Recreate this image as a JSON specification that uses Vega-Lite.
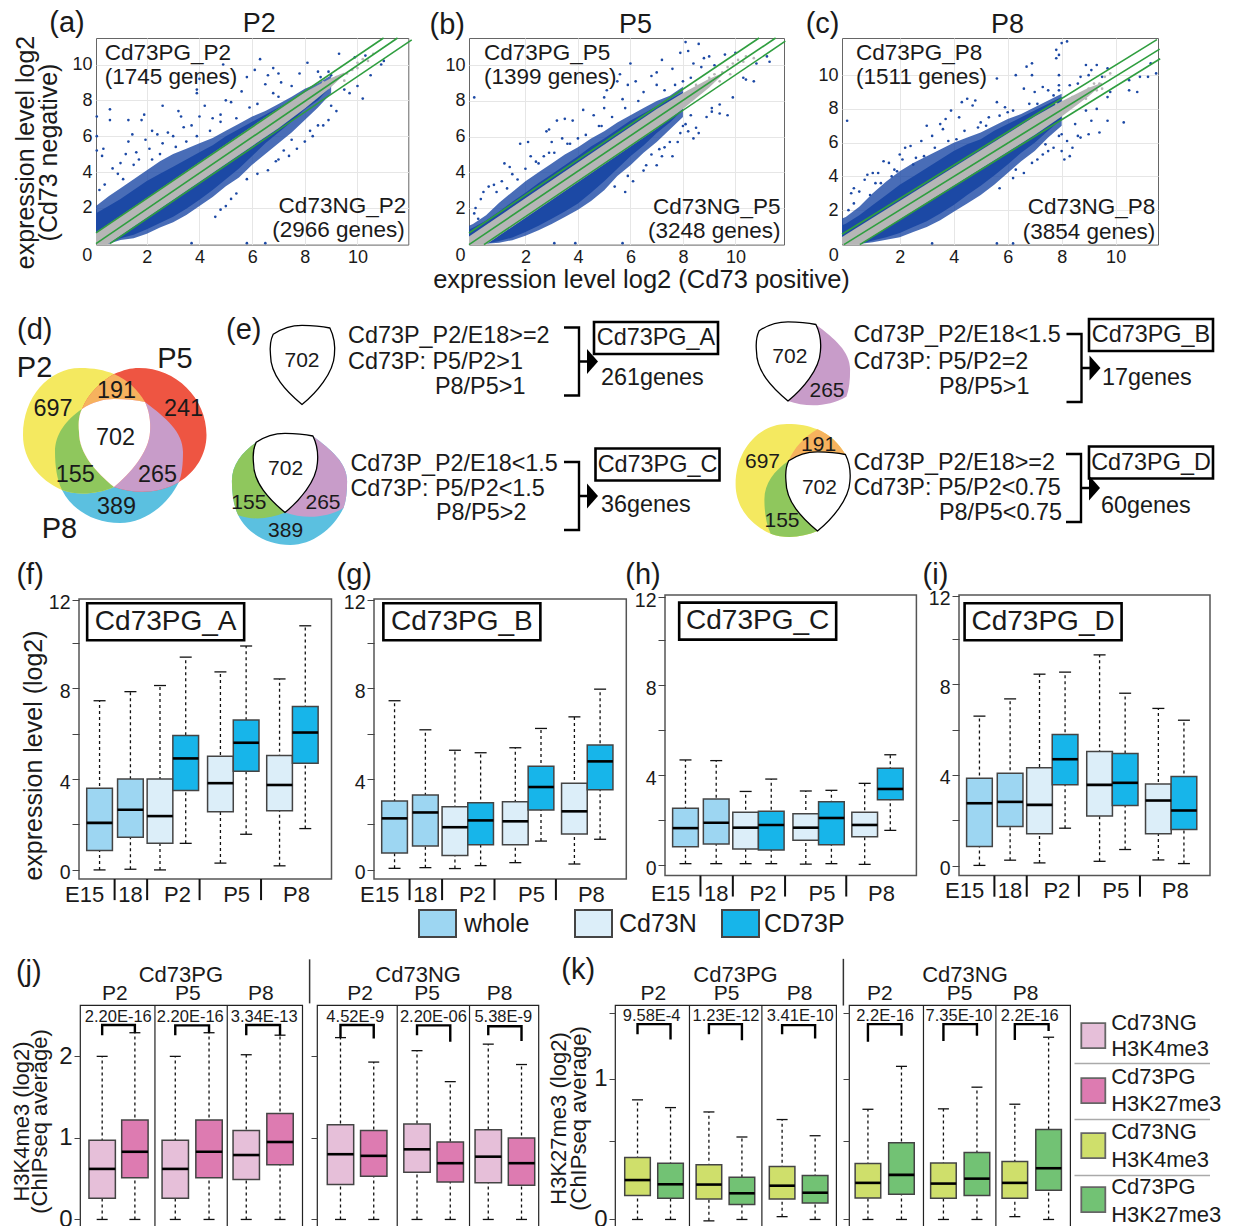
{"$schema":"https://vega.github.io/schema/vega-lite/v6.json","padding":0,"background":"white","bounds":"flush","spacing":0,"resolve":{"scale":{"color":"independent"}},
"datasets":{
"env":[
{"panel":"a","x":0.07,"hi":2.1,"lo":0,"hi2":1.7,"lo2":0},{"panel":"a","x":0.55,"hi":2.65,"lo":0,"hi2":2.1,"lo2":0},{"panel":"a","x":1,"hi":3.1,"lo":0.2,"hi2":2.5,"lo2":0.3},{"panel":"a","x":1.5,"hi":3.6,"lo":0.3,"hi2":3,"lo2":0.5},{"panel":"a","x":2,"hi":4.1,"lo":0.55,"hi2":3.5,"lo2":0.8},{"panel":"a","x":2.5,"hi":4.6,"lo":0.9,"hi2":3.9,"lo2":1.15},{"panel":"a","x":3,"hi":5,"lo":1.2,"hi2":4.3,"lo2":1.5},{"panel":"a","x":3.5,"hi":5.3,"lo":1.6,"hi2":4.7,"lo2":1.95},{"panel":"a","x":4,"hi":5.6,"lo":2.1,"hi2":5.1,"lo2":2.45},{"panel":"a","x":4.5,"hi":5.9,"lo":2.6,"hi2":5.5,"lo2":3},{"panel":"a","x":5,"hi":6.3,"lo":3.2,"hi2":6,"lo2":3.6},{"panel":"a","x":5.5,"hi":6.7,"lo":3.7,"hi2":6.4,"lo2":4.2},{"panel":"a","x":6,"hi":7.1,"lo":4.4,"hi2":6.8,"lo2":4.9},{"panel":"a","x":6.5,"hi":7.4,"lo":5,"hi2":7.2,"lo2":5.6},{"panel":"a","x":7,"hi":7.8,"lo":5.6,"hi2":7.6,"lo2":6.2},{"panel":"a","x":7.5,"hi":8.2,"lo":6.2,"hi2":8,"lo2":6.8},{"panel":"a","x":8,"hi":8.65,"lo":6.9,"hi2":8.4,"lo2":7.5},{"panel":"a","x":8.5,"hi":8.95,"lo":7.6,"hi2":8.8,"lo2":8},{"panel":"a","x":9,"hi":9.4,"lo":8.4,"hi2":9.2,"lo2":8.8},
{"panel":"b","x":-0.15,"hi":1,"lo":0,"hi2":0.8,"lo2":0},{"panel":"b","x":0,"hi":1.1,"lo":0,"hi2":0.9,"lo2":0},{"panel":"b","x":0.5,"hi":1.6,"lo":0,"hi2":1.3,"lo2":0},{"panel":"b","x":1,"hi":2.3,"lo":0.05,"hi2":1.8,"lo2":0.15},{"panel":"b","x":1.5,"hi":2.9,"lo":0.2,"hi2":2.35,"lo2":0.35},{"panel":"b","x":2,"hi":3.5,"lo":0.45,"hi2":2.85,"lo2":0.65},{"panel":"b","x":2.5,"hi":4,"lo":0.75,"hi2":3.4,"lo2":1},{"panel":"b","x":3,"hi":4.5,"lo":1.1,"hi2":3.9,"lo2":1.4},{"panel":"b","x":3.5,"hi":5,"lo":1.5,"hi2":4.4,"lo2":1.8},{"panel":"b","x":4,"hi":5.4,"lo":1.9,"hi2":4.9,"lo2":2.25},{"panel":"b","x":4.5,"hi":5.9,"lo":2.4,"hi2":5.45,"lo2":2.85},{"panel":"b","x":5,"hi":6.3,"lo":3,"hi2":5.9,"lo2":3.5},{"panel":"b","x":5.5,"hi":6.8,"lo":3.8,"hi2":6.4,"lo2":4.2},{"panel":"b","x":6,"hi":7.2,"lo":4.4,"hi2":6.9,"lo2":4.9},{"panel":"b","x":6.5,"hi":7.6,"lo":5.1,"hi2":7.3,"lo2":5.5},{"panel":"b","x":7,"hi":8,"lo":5.7,"hi2":7.7,"lo2":6.2},{"panel":"b","x":7.5,"hi":8.3,"lo":6.4,"hi2":8.1,"lo2":6.8},{"panel":"b","x":8,"hi":8.8,"lo":7.1,"hi2":8.5,"lo2":7.5},
{"panel":"c","x":-0.14,"hi":1.5,"lo":0,"hi2":1.1,"lo2":0},{"panel":"c","x":0,"hi":1.6,"lo":0,"hi2":1.2,"lo2":0},{"panel":"c","x":0.5,"hi":2.2,"lo":0,"hi2":1.7,"lo2":0},{"panel":"c","x":1,"hi":3,"lo":0.1,"hi2":2.3,"lo2":0.2},{"panel":"c","x":1.5,"hi":3.7,"lo":0.25,"hi2":2.9,"lo2":0.4},{"panel":"c","x":2,"hi":4.3,"lo":0.4,"hi2":3.5,"lo2":0.65},{"panel":"c","x":2.5,"hi":4.8,"lo":0.7,"hi2":4,"lo2":1},{"panel":"c","x":3,"hi":5.2,"lo":1,"hi2":4.5,"lo2":1.35},{"panel":"c","x":3.5,"hi":5.6,"lo":1.4,"hi2":5,"lo2":1.8},{"panel":"c","x":4,"hi":6,"lo":1.9,"hi2":5.5,"lo2":2.3},{"panel":"c","x":4.5,"hi":6.3,"lo":2.4,"hi2":5.9,"lo2":2.9},{"panel":"c","x":5,"hi":6.6,"lo":2.9,"hi2":6.2,"lo2":3.45},{"panel":"c","x":5.5,"hi":7,"lo":3.5,"hi2":6.7,"lo2":4.05},{"panel":"c","x":6,"hi":7.4,"lo":4.2,"hi2":7.1,"lo2":4.7},{"panel":"c","x":6.5,"hi":7.7,"lo":4.9,"hi2":7.5,"lo2":5.4},{"panel":"c","x":7,"hi":8.1,"lo":5.5,"hi2":7.9,"lo2":6},{"panel":"c","x":7.5,"hi":8.5,"lo":6.3,"hi2":8.3,"lo2":6.7},{"panel":"c","x":8,"hi":8.9,"lo":7,"hi2":8.7,"lo2":7.4}],
"band":[{"x":-0.3,"hi":0.25,"lo":-0.85},{"x":7,"hi":7.55,"lo":6.45},{"x":8,"hi":8.45,"lo":7.55},{"x":9,"hi":9.25,"lo":8.75},{"x":9.5,"hi":9.55,"lo":9.45}],
"green":[
{"panel":"a","l":"u","x":0.07,"y":0.6},{"panel":"a","l":"u","x":10.99,"y":11.48},{"panel":"a","l":"m","x":0.07,"y":0},{"panel":"a","l":"m","x":11.52,"y":11.48},{"panel":"a","l":"d","x":0.6,"y":0},{"panel":"a","l":"d","x":12.06,"y":11.38},
{"panel":"b","l":"u","x":-0.15,"y":0.6},{"panel":"b","l":"u","x":10.9,"y":11.53},{"panel":"b","l":"m","x":-0.15,"y":-0.05},{"panel":"b","l":"m","x":11.53,"y":11.53},{"panel":"b","l":"d","x":0.42,"y":-0.05},{"panel":"b","l":"d","x":11.9,"y":11.35},
{"panel":"c","l":"u","x":-0.14,"y":0.57},{"panel":"c","l":"u","x":11.53,"y":12.1},{"panel":"c","l":"m","x":-0.07,"y":-0.04},{"panel":"c","l":"m","x":11.63,"y":11.54},{"panel":"c","l":"d","x":0.52,"y":-0.04},{"panel":"c","l":"d","x":11.65,"y":10.97}],
"pa":[{"x":0.1,"y":7.1},{"x":0.1,"y":6},{"x":0.1,"y":5.2},{"x":0.35,"y":5.3},{"x":0.6,"y":7.5},{"x":0.6,"y":6.9},{"x":0.3,"y":4.9},{"x":1.3,"y":6.9},{"x":1.9,"y":7.2},{"x":1.8,"y":6.9},{"x":1.3,"y":5.7},{"x":1.45,"y":6.1},{"x":1.6,"y":5.1},{"x":1.2,"y":5},{"x":1.95,"y":5.8},{"x":2.2,"y":6.3},{"x":2.4,"y":6.1},{"x":2.6,"y":7.7},{"x":3.2,"y":7.4},{"x":3.3,"y":7.1},{"x":3.4,"y":6.5},{"x":2.8,"y":6.2},{"x":3,"y":6},{"x":2.1,"y":5.3},{"x":2.6,"y":5.6},{"x":3.7,"y":6.6},{"x":4,"y":7.1},{"x":4.2,"y":7.7},{"x":4.5,"y":7},{"x":4.8,"y":7.2},{"x":5,"y":8},{"x":5.2,"y":7.9},{"x":5.6,"y":8.5},{"x":3.9,"y":8.6},{"x":4,"y":9.2},{"x":3.9,"y":8.4},{"x":4.9,"y":10},{"x":4.9,"y":9.3},{"x":5.8,"y":9.3},{"x":6.3,"y":10.3},{"x":6.1,"y":9.7},{"x":6.6,"y":9.4},{"x":6.8,"y":9.8},{"x":7,"y":9.5},{"x":7.1,"y":9},{"x":6.5,"y":8.9},{"x":6.8,"y":8.4},{"x":7,"y":8.2},{"x":7.5,"y":8.8},{"x":7.8,"y":9.5},{"x":8.1,"y":10.1},{"x":8.5,"y":9.6},{"x":8.9,"y":9.6},{"x":9.3,"y":10.6},{"x":9.9,"y":10.4},{"x":10.3,"y":10.5},{"x":8.6,"y":9.3},{"x":9,"y":9.4},{"x":0.2,"y":3},{"x":0.4,"y":3.3},{"x":0.7,"y":4.2},{"x":0.9,"y":3.9},{"x":1,"y":4.5},{"x":1.1,"y":3.6},{"x":1.5,"y":4.4},{"x":1.7,"y":4.7},{"x":2.2,"y":4.7},{"x":2.5,"y":5},{"x":3.1,"y":5.4},{"x":3.5,"y":5.7},{"x":3.9,"y":6},{"x":4.4,"y":6.3},{"x":4.8,"y":6.8},{"x":5.4,"y":7},{"x":5.9,"y":7.6},{"x":6.2,"y":7.8},{"x":3.7,"y":0.03},{"x":5.8,"y":0.03},{"x":6.5,"y":0.03},{"x":4.6,"y":1.5},{"x":5,"y":2.1},{"x":5.4,"y":2.8},{"x":5.8,"y":3.6},{"x":6.2,"y":3.9},{"x":6.6,"y":4.1},{"x":7,"y":4.7},{"x":7.4,"y":4.9},{"x":7.7,"y":5.3},{"x":7.5,"y":5.8},{"x":8,"y":5.7},{"x":8.3,"y":6},{"x":8.5,"y":6.6},{"x":8.7,"y":6.6},{"x":8.9,"y":6.9},{"x":9.2,"y":7.4},{"x":10.2,"y":8.1},{"x":9.7,"y":8.4},{"x":10.5,"y":9.4},{"x":11,"y":10.2},{"x":10.9,"y":10},{"x":10,"y":8.8},{"x":9.5,"y":8.6},{"x":9,"y":7.7},{"x":8.2,"y":6.3},{"x":7.2,"y":5.2},{"x":6.9,"y":4.6},{"x":5.2,"y":2.5},{"x":4.8,"y":1.9}],
"pb":[{"x":0.05,"y":8.2},{"x":0.05,"y":1.7},{"x":0.3,"y":2.5},{"x":0.4,"y":2.9},{"x":0.6,"y":3.2},{"x":0.8,"y":3.3},{"x":0.9,"y":2.9},{"x":1.1,"y":3.5},{"x":1.2,"y":4.5},{"x":1.4,"y":4.3},{"x":1.5,"y":3.9},{"x":1.7,"y":3.6},{"x":1.8,"y":5.6},{"x":2.1,"y":5.7},{"x":2.2,"y":4.9},{"x":2.4,"y":4.6},{"x":2.7,"y":4.9},{"x":2.9,"y":5.1},{"x":2.8,"y":6.3},{"x":2.9,"y":6.4},{"x":3,"y":5.7},{"x":3.2,"y":6.9},{"x":3.4,"y":5.9},{"x":3.6,"y":5.6},{"x":3.5,"y":7},{"x":3.8,"y":6.9},{"x":4,"y":5.9},{"x":4.2,"y":7.5},{"x":4.6,"y":7.2},{"x":4.9,"y":6.6},{"x":5,"y":8.2},{"x":5,"y":7.6},{"x":5.1,"y":8.6},{"x":5.5,"y":9.1},{"x":5.7,"y":8.1},{"x":5.6,"y":9.5},{"x":5.9,"y":8.9},{"x":6,"y":10.1},{"x":6.2,"y":9.1},{"x":6.5,"y":8.5},{"x":6.8,"y":9.4},{"x":7,"y":9.6},{"x":7,"y":8.9},{"x":7.2,"y":10.3},{"x":7.6,"y":9.8},{"x":7.9,"y":10.7},{"x":8,"y":9.1},{"x":8.1,"y":11.3},{"x":8.2,"y":10.8},{"x":8.6,"y":11.2},{"x":8.4,"y":10.1},{"x":8.8,"y":10.4},{"x":9,"y":10.5},{"x":9.2,"y":10},{"x":9.6,"y":10.6},{"x":10,"y":10.7},{"x":7.7,"y":8.9},{"x":8.3,"y":9.3},{"x":8.7,"y":9.9},{"x":0.1,"y":2},{"x":0.2,"y":1.4},{"x":1.3,"y":3.1},{"x":2,"y":4.2},{"x":2.5,"y":4.5},{"x":3.1,"y":5.1},{"x":3.7,"y":5.6},{"x":4.3,"y":6.1},{"x":4.8,"y":6.6},{"x":5.3,"y":7.1},{"x":5.8,"y":7.6},{"x":6.3,"y":8},{"x":7.3,"y":8.6},{"x":3.1,"y":0.03},{"x":3.9,"y":0.03},{"x":5.7,"y":0.03},{"x":5.8,"y":2.9},{"x":6.1,"y":3.5},{"x":6.5,"y":4.1},{"x":6.6,"y":4.4},{"x":7,"y":4.4},{"x":7.2,"y":4.9},{"x":7.3,"y":5.4},{"x":7.6,"y":4.9},{"x":7.1,"y":5.3},{"x":7.8,"y":5.7},{"x":7.9,"y":6.2},{"x":8.2,"y":6.3},{"x":8.1,"y":6.7},{"x":8.4,"y":5.9},{"x":8.6,"y":6.2},{"x":8.5,"y":6.5},{"x":8.3,"y":7.2},{"x":8.9,"y":7.1},{"x":9.1,"y":7.4},{"x":9.4,"y":7.3},{"x":9.7,"y":7.2},{"x":9.4,"y":7.8},{"x":9.1,"y":7.6},{"x":9.9,"y":8.2},{"x":10.3,"y":9.3},{"x":10.4,"y":9.2},{"x":10.7,"y":9.1},{"x":11.2,"y":10.5},{"x":11.3,"y":10.2},{"x":10.8,"y":10.1},{"x":5.4,"y":3.2},{"x":5.9,"y":3.8},{"x":6.8,"y":5},{"x":7.5,"y":5.7},{"x":8,"y":6.6}],
"pc":[{"x":0.05,"y":7.3},{"x":0.2,"y":3},{"x":0.3,"y":3.3},{"x":0.5,"y":3.1},{"x":0.7,"y":3.8},{"x":0.8,"y":4.1},{"x":1,"y":4.2},{"x":1.1,"y":3.6},{"x":1.2,"y":4.2},{"x":1.4,"y":4.9},{"x":1.6,"y":4.8},{"x":1.7,"y":4},{"x":1.9,"y":4.3},{"x":2,"y":5.3},{"x":2.2,"y":5.7},{"x":2.1,"y":5},{"x":2.4,"y":5.8},{"x":2.5,"y":4.7},{"x":2.8,"y":6.1},{"x":2.9,"y":5.2},{"x":3,"y":7},{"x":3.2,"y":6.4},{"x":3.5,"y":7.1},{"x":3.7,"y":7.4},{"x":3.6,"y":6.8},{"x":3.9,"y":7.9},{"x":3.8,"y":6.1},{"x":4.2,"y":7.5},{"x":4.4,"y":6.7},{"x":4.3,"y":8.4},{"x":4.7,"y":8.2},{"x":4.8,"y":8.5},{"x":4.9,"y":6.9},{"x":5,"y":7.2},{"x":4.5,"y":8.6},{"x":5.6,"y":8.4},{"x":5.7,"y":7.6},{"x":5.9,"y":8.1},{"x":5.3,"y":7.5},{"x":6,"y":7.8},{"x":5.6,"y":9.8},{"x":6.3,"y":10},{"x":6.6,"y":9.2},{"x":6.7,"y":10.5},{"x":6.9,"y":10.7},{"x":6.9,"y":10},{"x":7,"y":9},{"x":7.3,"y":9.3},{"x":7.1,"y":8.3},{"x":7.5,"y":9.1},{"x":7.7,"y":8.8},{"x":7.9,"y":9.4},{"x":7.9,"y":10},{"x":7.8,"y":11},{"x":7.9,"y":11.2},{"x":7.8,"y":11.5},{"x":7.9,"y":9.1},{"x":8,"y":11.9},{"x":8.2,"y":12},{"x":8.7,"y":9.9},{"x":9,"y":10},{"x":8.9,"y":10.6},{"x":9.3,"y":10.6},{"x":9.5,"y":9.9},{"x":9.1,"y":10.3},{"x":8.3,"y":9.4},{"x":8.6,"y":9.5},{"x":9.7,"y":10.4},{"x":0.1,"y":2},{"x":0.3,"y":2.4},{"x":0.9,"y":2.9},{"x":1.3,"y":3.6},{"x":1.8,"y":4.4},{"x":2.6,"y":5.1},{"x":3.3,"y":5.7},{"x":4.1,"y":6.2},{"x":5.2,"y":7},{"x":6.2,"y":7.9},{"x":6.8,"y":8.3},{"x":3.2,"y":0.03},{"x":5.6,"y":0.03},{"x":6.2,"y":0.03},{"x":6.2,"y":3.9},{"x":6.6,"y":4.2},{"x":6.9,"y":4.8},{"x":7.1,"y":5},{"x":7.3,"y":5.3},{"x":7.5,"y":5.5},{"x":7.7,"y":5.7},{"x":8,"y":5.5},{"x":8.1,"y":5},{"x":8.3,"y":5.2},{"x":8.4,"y":5.7},{"x":8.2,"y":6.1},{"x":8,"y":6.5},{"x":8.6,"y":6.4},{"x":8.7,"y":6.3},{"x":9,"y":6.5},{"x":9.4,"y":6.6},{"x":9.7,"y":7.3},{"x":10.3,"y":7.2},{"x":9.1,"y":7.3},{"x":8.9,"y":7.9},{"x":9.3,"y":8},{"x":9.7,"y":8.7},{"x":9.8,"y":9},{"x":10.5,"y":9.1},{"x":10.5,"y":9.7},{"x":10.9,"y":9.9},{"x":11.2,"y":9.9},{"x":11.5,"y":10.1},{"x":11.3,"y":10.7},{"x":10.8,"y":9},{"x":7.4,"y":5.9},{"x":7.9,"y":6.4},{"x":8.5,"y":7.1},{"x":5.7,"y":3.3},{"x":6.3,"y":4.4}],
"ga":[{"x":8.2,"y":8.4},{"x":8.5,"y":8.6},{"x":8.7,"y":9},{"x":9,"y":9},{"x":9.2,"y":9.3},{"x":9.4,"y":9.4},{"x":9.6,"y":9.5},{"x":9.8,"y":9.7},{"x":10,"y":9.8},{"x":10.2,"y":10.3},{"x":10.4,"y":10.2},{"x":10.6,"y":10.6},{"x":8.9,"y":8.7},{"x":9.5,"y":9.1},{"x":10,"y":10.1}],
"gb":[{"x":8.2,"y":8.5},{"x":8.5,"y":8.9},{"x":8.7,"y":8.8},{"x":9,"y":9.3},{"x":9.2,"y":9.5},{"x":9.5,"y":9.6},{"x":9.7,"y":9.9},{"x":9.9,"y":10.1},{"x":10.1,"y":10.3},{"x":10.4,"y":10.5},{"x":10.7,"y":10.4},{"x":9.4,"y":9.1},{"x":8.9,"y":8.8},{"x":9.8,"y":9.5},{"x":10.3,"y":10.2}],
"gc":[{"x":8.2,"y":8.4},{"x":8.4,"y":8.7},{"x":8.7,"y":8.9},{"x":9,"y":9.2},{"x":9.2,"y":9.5},{"x":9.4,"y":9.5},{"x":9.6,"y":9.9},{"x":9.8,"y":10.1},{"x":8.9,"y":8.6},{"x":9.3,"y":9.1},{"x":7.8,"y":8.3},{"x":8,"y":8.2},{"x":9.5,"y":9.2},{"x":8.6,"y":8.4}],
"box":[
{"panel":"f","at":0.8,"type":"whole","hi":7.45,"q3":3.6,"med":2.07,"q1":0.85,"lo":0},{"panel":"f","at":2,"type":"whole","hi":7.85,"q3":4,"med":2.65,"q1":1.44,"lo":0.03},{"panel":"f","at":3.15,"type":"N","hi":8.12,"q3":4,"med":2.37,"q1":1.17,"lo":0},{"panel":"f","at":4.15,"type":"P","hi":9.37,"q3":5.92,"med":4.91,"q1":3.5,"lo":1.17},{"panel":"f","at":5.5,"type":"N","hi":8.72,"q3":5,"med":3.82,"q1":2.56,"lo":0.3},{"panel":"f","at":6.5,"type":"P","hi":9.86,"q3":6.6,"med":5.6,"q1":4.34,"lo":1.57},{"panel":"f","at":7.8,"type":"N","hi":8.41,"q3":5.04,"med":3.74,"q1":2.6,"lo":0.18},{"panel":"f","at":8.8,"type":"P","hi":10.75,"q3":7.2,"med":6.05,"q1":4.7,"lo":1.82},
{"panel":"g","at":0.8,"type":"whole","hi":7.45,"q3":3.03,"med":2.27,"q1":0.75,"lo":0.07},{"panel":"g","at":2,"type":"whole","hi":6.17,"q3":3.3,"med":2.53,"q1":1.05,"lo":0.1},{"panel":"g","at":3.15,"type":"N","hi":5.27,"q3":2.78,"med":1.88,"q1":0.63,"lo":0.06},{"panel":"g","at":4.15,"type":"P","hi":5.16,"q3":2.96,"med":2.18,"q1":1.11,"lo":0.19},{"panel":"g","at":5.5,"type":"N","hi":5.38,"q3":3,"med":2.14,"q1":1.11,"lo":0.32},{"panel":"g","at":6.5,"type":"P","hi":6.23,"q3":4.57,"med":3.65,"q1":2.64,"lo":1.27},{"panel":"g","at":7.8,"type":"N","hi":6.74,"q3":3.82,"med":2.58,"q1":1.58,"lo":0.26},{"panel":"g","at":8.8,"type":"P","hi":7.96,"q3":5.5,"med":4.78,"q1":3.53,"lo":1.35},
{"panel":"h","at":0.8,"type":"whole","hi":4.67,"q3":2.52,"med":1.64,"q1":0.81,"lo":0.06},{"panel":"h","at":2,"type":"whole","hi":4.64,"q3":2.93,"med":1.88,"q1":0.93,"lo":0.06},{"panel":"h","at":3.15,"type":"N","hi":3.27,"q3":2.34,"med":1.66,"q1":0.71,"lo":0.06},{"panel":"h","at":4.15,"type":"P","hi":3.82,"q3":2.39,"med":1.78,"q1":0.67,"lo":0.06},{"panel":"h","at":5.5,"type":"N","hi":3.29,"q3":2.28,"med":1.66,"q1":1.1,"lo":0.04},{"panel":"h","at":6.5,"type":"P","hi":3.32,"q3":2.81,"med":2.09,"q1":0.9,"lo":0.06},{"panel":"h","at":7.8,"type":"N","hi":3.63,"q3":2.34,"med":1.78,"q1":1.26,"lo":0.03},{"panel":"h","at":8.8,"type":"P","hi":4.9,"q3":4.3,"med":3.38,"q1":2.9,"lo":1.54},
{"panel":"i","at":0.8,"type":"whole","hi":6.59,"q3":3.85,"med":2.75,"q1":0.84,"lo":0.01},{"panel":"i","at":2,"type":"whole","hi":7.35,"q3":4.07,"med":2.81,"q1":1.72,"lo":0.24},{"panel":"i","at":3.15,"type":"N","hi":8.44,"q3":4.31,"med":2.68,"q1":1.41,"lo":0.12},{"panel":"i","at":4.15,"type":"P","hi":8.53,"q3":5.78,"med":4.69,"q1":3.57,"lo":1.65},{"panel":"i","at":5.5,"type":"N","hi":9.29,"q3":5.03,"med":3.56,"q1":2.19,"lo":0.19},{"panel":"i","at":6.5,"type":"P","hi":7.6,"q3":4.94,"med":3.65,"q1":2.65,"lo":0.71},{"panel":"i","at":7.8,"type":"N","hi":6.93,"q3":3.6,"med":2.87,"q1":1.41,"lo":0.25},{"panel":"i","at":8.8,"type":"P","hi":6.41,"q3":3.93,"med":2.43,"q1":1.59,"lo":0.09}],
"seps":[{"at":1.385},{"at":2.65},{"at":4.69},{"at":7.08}],
"chip":[
{"panel":"j1","at":0.84,"k":"NG_K4","hi":2,"q3":0.97,"med":0.62,"q1":0.26,"lo":0},{"panel":"j1","at":2.08,"k":"PG_K27","hi":2.29,"q3":1.22,"med":0.83,"q1":0.51,"lo":0},{"panel":"j1","at":3.61,"k":"NG_K4","hi":2,"q3":0.97,"med":0.62,"q1":0.26,"lo":0},{"panel":"j1","at":4.89,"k":"PG_K27","hi":2.29,"q3":1.22,"med":0.83,"q1":0.51,"lo":0},{"panel":"j1","at":6.3,"k":"NG_K4","hi":2.02,"q3":1.09,"med":0.79,"q1":0.49,"lo":0},{"panel":"j1","at":7.58,"k":"PG_K27","hi":2.26,"q3":1.3,"med":0.95,"q1":0.67,"lo":0},
{"panel":"j2","at":0.89,"k":"NG_K4","hi":2.23,"q3":1.16,"med":0.8,"q1":0.43,"lo":0},{"panel":"j2","at":2.15,"k":"PG_K27","hi":1.93,"q3":1.09,"med":0.78,"q1":0.53,"lo":0},{"panel":"j2","at":3.79,"k":"NG_K4","hi":2.07,"q3":1.17,"med":0.86,"q1":0.58,"lo":0},{"panel":"j2","at":5.05,"k":"PG_K27","hi":1.69,"q3":0.95,"med":0.69,"q1":0.46,"lo":0},{"panel":"j2","at":6.49,"k":"NG_K4","hi":2.15,"q3":1.1,"med":0.77,"q1":0.45,"lo":0},{"panel":"j2","at":7.75,"k":"PG_K27","hi":1.9,"q3":1,"med":0.69,"q1":0.42,"lo":0},
{"panel":"k1","at":0.88,"k":"NG_K4g","hi":0.85,"q3":0.44,"med":0.28,"q1":0.17,"lo":0},{"panel":"k1","at":2.17,"k":"PG_K27g","hi":0.795,"q3":0.4,"med":0.25,"q1":0.15,"lo":0},{"panel":"k1","at":3.67,"k":"NG_K4g","hi":0.764,"q3":0.388,"med":0.248,"q1":0.145,"lo":-0.01},{"panel":"k1","at":4.96,"k":"PG_K27g","hi":0.586,"q3":0.3,"med":0.186,"q1":0.107,"lo":0},{"panel":"k1","at":6.53,"k":"NG_K4g","hi":0.71,"q3":0.376,"med":0.24,"q1":0.145,"lo":0.02},{"panel":"k1","at":7.82,"k":"PG_K27g","hi":0.595,"q3":0.312,"med":0.19,"q1":0.117,"lo":0},
{"panel":"k2","at":0.74,"k":"NG_K4g","hi":0.783,"q3":0.398,"med":0.26,"q1":0.152,"lo":0},{"panel":"k2","at":2.05,"k":"PG_K27g","hi":1.088,"q3":0.545,"med":0.317,"q1":0.179,"lo":0},{"panel":"k2","at":3.69,"k":"NG_K4g","hi":0.786,"q3":0.402,"med":0.255,"q1":0.15,"lo":0},{"panel":"k2","at":5,"k":"PG_K27g","hi":0.94,"q3":0.476,"med":0.29,"q1":0.171,"lo":0},{"panel":"k2","at":6.48,"k":"NG_K4g","hi":0.819,"q3":0.412,"med":0.26,"q1":0.15,"lo":0.02},{"panel":"k2","at":7.8,"k":"PG_K27g","hi":1.295,"q3":0.64,"med":0.364,"q1":0.207,"lo":0}],
"brk":[
{"panel":"j1","b":1,"o":1,"at":0.84,"v":2.26},{"panel":"j1","b":1,"o":2,"at":0.84,"v":2.385},{"panel":"j1","b":1,"o":3,"at":2.08,"v":2.385},{"panel":"j1","b":1,"o":4,"at":2.08,"v":2.29},
{"panel":"j1","b":2,"o":1,"at":3.61,"v":2.26},{"panel":"j1","b":2,"o":2,"at":3.61,"v":2.38},{"panel":"j1","b":2,"o":3,"at":4.89,"v":2.38},{"panel":"j1","b":2,"o":4,"at":4.89,"v":2.29},
{"panel":"j1","b":3,"o":1,"at":6.3,"v":2.26},{"panel":"j1","b":3,"o":2,"at":6.3,"v":2.385},{"panel":"j1","b":3,"o":3,"at":7.58,"v":2.385},{"panel":"j1","b":3,"o":4,"at":7.58,"v":2.26},
{"panel":"j2","b":1,"o":1,"at":0.89,"v":2.23},{"panel":"j2","b":1,"o":2,"at":0.89,"v":2.385},{"panel":"j2","b":1,"o":3,"at":2.15,"v":2.385},{"panel":"j2","b":1,"o":4,"at":2.15,"v":2.22},
{"panel":"j2","b":2,"o":1,"at":3.79,"v":2.26},{"panel":"j2","b":2,"o":2,"at":3.79,"v":2.38},{"panel":"j2","b":2,"o":3,"at":5.05,"v":2.38},{"panel":"j2","b":2,"o":4,"at":5.05,"v":2.18},
{"panel":"j2","b":3,"o":1,"at":6.49,"v":2.26},{"panel":"j2","b":3,"o":2,"at":6.49,"v":2.37},{"panel":"j2","b":3,"o":3,"at":7.75,"v":2.37},{"panel":"j2","b":3,"o":4,"at":7.75,"v":2.19},
{"panel":"k1","b":1,"o":1,"at":0.88,"v":1.317},{"panel":"k1","b":1,"o":2,"at":0.88,"v":1.388},{"panel":"k1","b":1,"o":3,"at":2.17,"v":1.388},{"panel":"k1","b":1,"o":4,"at":2.17,"v":1.279},
{"panel":"k1","b":2,"o":1,"at":3.67,"v":1.317},{"panel":"k1","b":2,"o":2,"at":3.67,"v":1.388},{"panel":"k1","b":2,"o":3,"at":4.96,"v":1.388},{"panel":"k1","b":2,"o":4,"at":4.96,"v":1.274},
{"panel":"k1","b":3,"o":1,"at":6.53,"v":1.317},{"panel":"k1","b":3,"o":2,"at":6.53,"v":1.381},{"panel":"k1","b":3,"o":3,"at":7.82,"v":1.381},{"panel":"k1","b":3,"o":4,"at":7.82,"v":1.286},
{"panel":"k2","b":1,"o":1,"at":0.74,"v":1.262},{"panel":"k2","b":1,"o":2,"at":0.74,"v":1.388},{"panel":"k2","b":1,"o":3,"at":2.05,"v":1.388},{"panel":"k2","b":1,"o":4,"at":2.05,"v":1.305},
{"panel":"k2","b":2,"o":1,"at":3.69,"v":1.269},{"panel":"k2","b":2,"o":2,"at":3.69,"v":1.388},{"panel":"k2","b":2,"o":3,"at":5,"v":1.388},{"panel":"k2","b":2,"o":4,"at":5,"v":1.305},
{"panel":"k2","b":3,"o":1,"at":6.48,"v":1.276},{"panel":"k2","b":3,"o":2,"at":6.48,"v":1.388},{"panel":"k2","b":3,"o":3,"at":7.8,"v":1.388},{"panel":"k2","b":3,"o":4,"at":7.8,"v":1.34}],
"venn":[
{"venn":"d","x":11.3,"y":13,"region":"blue"},{"venn":"d","x":11.3,"y":13,"region":"yellow"},{"venn":"d","x":11.3,"y":13,"region":"red"},{"venn":"d","x":11.3,"y":13,"region":"orange"},{"venn":"d","x":11.3,"y":13,"region":"green"},{"venn":"d","x":11.3,"y":13,"region":"purple"},{"venn":"d","x":11.3,"y":13,"region":"shield"},
{"venn":"A","x":30.1,"y":5.2,"region":"shield"},
{"venn":"B","x":78.7,"y":4.85,"region":"purple"},{"venn":"B","x":78.7,"y":4.85,"region":"shield"},
{"venn":"C","x":28.4,"y":16,"region":"blue"},{"venn":"C","x":28.4,"y":16,"region":"green"},{"venn":"C","x":28.4,"y":16,"region":"purple"},{"venn":"C","x":28.4,"y":16,"region":"shield"},
{"venn":"D","x":81.65,"y":17.85,"region":"yellow"},{"venn":"D","x":81.65,"y":17.85,"region":"orange"},{"venn":"D","x":81.65,"y":17.85,"region":"green"},{"venn":"D","x":81.65,"y":17.85,"region":"shield"}],
"dcenter":[
{"t":"702","k":"n","x":11.46,"y":12.6},{"t":"697","k":"n","x":5.2,"y":9.7},{"t":"191","k":"n","x":11.54,"y":7.9},{"t":"241","k":"n","x":18.26,"y":9.7},{"t":"155","k":"n","x":7.43,"y":16.3},{"t":"265","k":"n","x":15.65,"y":16.3},{"t":"389","k":"n","x":11.54,"y":19.5},
{"t":"P2","k":"big","x":3.36,"y":5.57},{"t":"P5","k":"big","x":17.4,"y":4.7},{"t":"P8","k":"big","x":5.85,"y":21.67},
{"t":"702","k":"s","x":30.1,"y":4.9},{"t":"702","k":"s","x":28.46,"y":15.67},{"t":"155","k":"s","x":24.78,"y":19.1},{"t":"265","k":"s","x":32.2,"y":19.1},{"t":"389","k":"s","x":28.46,"y":21.9},{"t":"702","k":"s","x":78.88,"y":4.5},{"t":"265","k":"s","x":82.6,"y":7.9},{"t":"702","k":"s","x":81.84,"y":17.57},{"t":"697","k":"s","x":76.15,"y":15},{"t":"191","k":"s","x":81.76,"y":13.3},{"t":"155","k":"s","x":78.1,"y":20.9},
{"t":"Cd73PG_A","k":"n","x":65.5,"y":2.6},{"t":"Cd73PG_B","k":"n","x":115,"y":2.3},{"t":"Cd73PG_C","k":"n","x":65.65,"y":15.25},{"t":"Cd73PG_D","k":"n","x":115,"y":15.05}],
"dleft":[
{"t":"(d)","k":"big","x":1.6,"y":1.8},{"t":"(e)","k":"big","x":22.5,"y":1.8},
{"t":"Cd73P_P2/E18>=2","k":"n","x":34.7,"y":2.4},{"t":"Cd73P: P5/P2>1","k":"n","x":34.7,"y":5},{"t":"P8/P5>1","k":"n","x":43.4,"y":7.5},{"t":"261genes","k":"n","x":60,"y":6.6},
{"t":"Cd73P_P2/E18<1.5","k":"n","x":85.24,"y":2.3},{"t":"Cd73P: P5/P2=2","k":"n","x":85.24,"y":5},{"t":"P8/P5>1","k":"n","x":93.8,"y":7.5},{"t":"17genes","k":"n","x":110.1,"y":6.6},
{"t":"Cd73P_P2/E18<1.5","k":"n","x":34.94,"y":15.17},{"t":"Cd73P: P5/P2<1.5","k":"n","x":34.94,"y":17.67},{"t":"P8/P5>2","k":"n","x":43.5,"y":20.1},{"t":"36genes","k":"n","x":60,"y":19.3},
{"t":"Cd73P_P2/E18>=2","k":"n","x":85.24,"y":15.1},{"t":"Cd73P: P5/P2<0.75","k":"n","x":85.24,"y":17.57},{"t":"P8/P5<0.75","k":"n","x":93.8,"y":20.1},{"t":"60genes","k":"n","x":110,"y":19.4}],
"dbox":[{"x":65.5,"y":2.6},{"x":115,"y":2.3},{"x":65.65,"y":15.25},{"x":115,"y":15.05}],
"dbrk":[{"x":57.8,"y":4.95},{"x":108.05,"y":5.6},{"x":57.8,"y":18.4},{"x":108,"y":17.6}]
},
"vconcat":[
{"width":1,"height":36.7,"data":{"values":[{}]},"mark":{"type":"rule","opacity":0},"encoding":{}},
{"hconcat":[
{"width":95,"height":1,"data":{"values":[{}]},"mark":{"type":"rule","opacity":0},"encoding":{}},
{"width":312.3,"height":206.6,"view":{"stroke":"#666"},
"encoding":{"x":{"field":"x","type":"quantitative","scale":{"domain":[0.07,11.93],"nice":false,"zero":false},"axis":{"values":[2,4,6,8,10],"grid":true,"gridColor":"#e6e6e6","ticks":false,"domain":false,"labelFontSize":18,"labelPadding":4,"title":null}},
"y":{"field":"y","type":"quantitative","scale":{"domain":[-0.05,11.48],"nice":false,"zero":false},"axis":{"values":[2,4,6,8,10],"grid":true,"gridColor":"#e6e6e6","ticks":false,"domain":false,"labelFontSize":18,"labelPadding":4,"title":["expression level log2","(Cd73 negative)"],"titleFontSize":25,"titleLineHeight":23,"titleX":-70.5,"titleY":114,"titleBaseline":"middle"}}},
"layer":[
{"data":{"name":"env"},"transform":[{"filter":"datum.panel=='a'"}],"mark":{"type":"area","color":"#1c49a5","opacity":0.8,"clip":true},"encoding":{"y":{"field":"lo","type":"quantitative"},"y2":{"field":"hi"}}},
{"data":{"name":"env"},"transform":[{"filter":"datum.panel=='a'"}],"mark":{"type":"area","color":"#1c49a5","clip":true},"encoding":{"y":{"field":"lo2","type":"quantitative"},"y2":{"field":"hi2"}}},
{"data":{"name":"pa"},"mark":{"type":"circle","size":7,"color":"#1c49a5","opacity":1}},
{"data":{"name":"band"},"mark":{"type":"area","color":"#b6b6b6","clip":true},"encoding":{"y":{"field":"lo","type":"quantitative"},"y2":{"field":"hi"}}},
{"data":{"name":"ga"},"mark":{"type":"circle","size":7,"color":"#b6b6b6","opacity":1}},
{"data":{"name":"green"},"transform":[{"filter":"datum.panel=='a'"}],"mark":{"type":"line","color":"#2f9e3f","strokeWidth":1.6},"encoding":{"detail":{"field":"l"}}},
{"data":{"values":[{"t":"Cd73PG_P2","x":0.4,"y":10.65},{"t":"(1745 genes)","x":0.4,"y":9.3}]},"mark":{"type":"text","align":"left","fontSize":22.5},"encoding":{"text":{"field":"t"}}},
{"data":{"values":[{"t":"Cd73NG_P2","x":11.85,"y":2.08},{"t":"(2966 genes)","x":11.8,"y":0.74}]},"mark":{"type":"text","align":"right","fontSize":22.5},"encoding":{"text":{"field":"t"}}},
{"data":{"values":[{"t":"0","x":0,"y":0}]},"mark":{"type":"text","fontSize":18,"dx":-7,"dy":12},"encoding":{"text":{"field":"t"}}},
{"data":{"values":[{"t":"P2","x":6.27,"y":12.25}]},"mark":{"type":"text","fontSize":27},"encoding":{"text":{"field":"t"}}},
{"data":{"values":[{"t":"(a)","x":-1.03,"y":12.3}]},"mark":{"type":"text","fontSize":29},"encoding":{"text":{"field":"t"}}}
]},
{"width":59.5,"height":1,"data":{"values":[{}]},"mark":{"type":"rule","opacity":0},"encoding":{}},
{"width":315,"height":206.6,"view":{"stroke":"#666"},
"encoding":{"x":{"field":"x","type":"quantitative","scale":{"domain":[-0.15,11.85],"nice":false,"zero":false},"axis":{"values":[2,4,6,8,10],"grid":true,"gridColor":"#e6e6e6","ticks":false,"domain":false,"labelFontSize":18,"labelPadding":4,"title":"expression level log2 (Cd73 positive)","titleFontSize":25.5,"titleX":172,"titleY":35,"titleBaseline":"middle"}},
"y":{"field":"y","type":"quantitative","scale":{"domain":[-0.05,11.53],"nice":false,"zero":false},"axis":{"values":[2,4,6,8,10],"grid":true,"gridColor":"#e6e6e6","ticks":false,"domain":false,"labelFontSize":18,"labelPadding":4,"title":null}}},
"layer":[
{"data":{"name":"env"},"transform":[{"filter":"datum.panel=='b'"}],"mark":{"type":"area","color":"#1c49a5","opacity":0.8,"clip":true},"encoding":{"y":{"field":"lo","type":"quantitative"},"y2":{"field":"hi"}}},
{"data":{"name":"env"},"transform":[{"filter":"datum.panel=='b'"}],"mark":{"type":"area","color":"#1c49a5","clip":true},"encoding":{"y":{"field":"lo2","type":"quantitative"},"y2":{"field":"hi2"}}},
{"data":{"name":"pb"},"mark":{"type":"circle","size":7,"color":"#1c49a5","opacity":1}},
{"data":{"name":"band"},"mark":{"type":"area","color":"#b6b6b6","clip":true},"encoding":{"y":{"field":"lo","type":"quantitative"},"y2":{"field":"hi"}}},
{"data":{"name":"gb"},"mark":{"type":"circle","size":7,"color":"#b6b6b6","opacity":1}},
{"data":{"name":"green"},"transform":[{"filter":"datum.panel=='b'"}],"mark":{"type":"line","color":"#2f9e3f","strokeWidth":1.6},"encoding":{"detail":{"field":"l"}}},
{"data":{"values":[{"t":"Cd73PG_P5","x":0.42,"y":10.7},{"t":"(1399 genes)","x":0.42,"y":9.33}]},"mark":{"type":"text","align":"left","fontSize":22.5},"encoding":{"text":{"field":"t"}}},
{"data":{"values":[{"t":"Cd73NG_P5","x":11.72,"y":2.06},{"t":"(3248 genes)","x":11.72,"y":0.73}]},"mark":{"type":"text","align":"right","fontSize":22.5},"encoding":{"text":{"field":"t"}}},
{"data":{"values":[{"t":"0","x":0,"y":0}]},"mark":{"type":"text","fontSize":18,"dx":-12.5,"dy":12},"encoding":{"text":{"field":"t"}}},
{"data":{"values":[{"t":"P5","x":6.19,"y":12.26}]},"mark":{"type":"text","fontSize":27},"encoding":{"text":{"field":"t"}}},
{"data":{"values":[{"t":"(b)","x":-0.98,"y":12.28}]},"mark":{"type":"text","fontSize":29},"encoding":{"text":{"field":"t"}}}
]},
{"width":58,"height":1,"data":{"values":[{}]},"mark":{"type":"rule","opacity":0},"encoding":{}},
{"width":316,"height":206.6,"view":{"stroke":"#666"},
"encoding":{"x":{"field":"x","type":"quantitative","scale":{"domain":[-0.14,11.57],"nice":false,"zero":false},"axis":{"values":[2,4,6,8,10],"grid":true,"gridColor":"#e6e6e6","ticks":false,"domain":false,"labelFontSize":18,"labelPadding":4,"title":null}},
"y":{"field":"y","type":"quantitative","scale":{"domain":[-0.04,12.2],"nice":false,"zero":false},"axis":{"values":[2,4,6,8,10],"grid":true,"gridColor":"#e6e6e6","ticks":false,"domain":false,"labelFontSize":18,"labelPadding":4,"title":null}}},
"layer":[
{"data":{"name":"env"},"transform":[{"filter":"datum.panel=='c'"}],"mark":{"type":"area","color":"#1c49a5","opacity":0.8,"clip":true},"encoding":{"y":{"field":"lo","type":"quantitative"},"y2":{"field":"hi"}}},
{"data":{"name":"env"},"transform":[{"filter":"datum.panel=='c'"}],"mark":{"type":"area","color":"#1c49a5","clip":true},"encoding":{"y":{"field":"lo2","type":"quantitative"},"y2":{"field":"hi2"}}},
{"data":{"name":"pc"},"mark":{"type":"circle","size":7,"color":"#1c49a5","opacity":1}},
{"data":{"name":"band"},"mark":{"type":"area","color":"#b6b6b6","clip":true},"encoding":{"y":{"field":"lo","type":"quantitative"},"y2":{"field":"hi"}}},
{"data":{"name":"gc"},"mark":{"type":"circle","size":7,"color":"#b6b6b6","opacity":1}},
{"data":{"name":"green"},"transform":[{"filter":"datum.panel=='c'"}],"mark":{"type":"line","color":"#2f9e3f","strokeWidth":1.6},"encoding":{"detail":{"field":"l"}}},
{"data":{"values":[{"t":"Cd73PG_P8","x":0.38,"y":11.3},{"t":"(1511 genes)","x":0.38,"y":9.86}]},"mark":{"type":"text","align":"left","fontSize":22.5},"encoding":{"text":{"field":"t"}}},
{"data":{"values":[{"t":"Cd73NG_P8","x":11.47,"y":2.16},{"t":"(3854 genes)","x":11.47,"y":0.71}]},"mark":{"type":"text","align":"right","fontSize":22.5},"encoding":{"text":{"field":"t"}}},
{"data":{"values":[{"t":"0","x":0,"y":0}]},"mark":{"type":"text","fontSize":18,"dx":-12,"dy":12},"encoding":{"text":{"field":"t"}}},
{"data":{"values":[{"t":"P8","x":5.99,"y":12.98}]},"mark":{"type":"text","fontSize":27},"encoding":{"text":{"field":"t"}}},
{"data":{"values":[{"t":"(c)","x":-0.86,"y":13}]},"mark":{"type":"text","fontSize":29},"encoding":{"text":{"field":"t"}}}
]}
],"bounds":"flush","spacing":0},
{"width":1,"height":273.3,"data":{"values":[{}]},"mark":{"type":"rule","opacity":0},"encoding":{}},
{"width":1242,"height":245,"resolve":{"scale":{"size":"independent"}},
"encoding":{"x":{"field":"x","type":"quantitative","scale":{"domain":[0,124.2],"nice":false,"zero":false},"axis":null},"y":{"field":"y","type":"quantitative","scale":{"domain":[0,24.5],"reverse":true,"nice":false,"zero":false},"axis":null}},
"layer":[
{"data":{"name":"venn"},"mark":{"type":"point","filled":true,"opacity":1,"strokeWidth":0},"encoding":{
"shape":{"field":"region","type":"nominal","legend":null,"scale":{"domain":["yellow","red","blue","orange","green","purple","shield"],"range":[
"M0,-68C14,-62 24,-52 31,-40C35,-32 37,-20 36,-10C35,10 16,32 0,45C-16,52 -36,54 -52,48C-75,38 -91,18 -91,-7C-91,-45 -65,-74 -34,-74C-20,-74 -10,-72 0,-68Z",
"M0,-68C10,-72 16,-74 25,-74C62,-74 92.5,-44 92.5,-7C92.5,12 82,30 65,40C45,52 20,52 0,45C-18,30 -35,12 -35,-10C-36,-20 -35,-27 -32,-33C-26,-48 -14,-60 0,-68Z",
"M-32,-33C-22,-40 -10,-43 0,-43C12,-43 22,-42 31,-40C52,-24 69,-10 69,10C69,22 68,32 65,40C53,64 30,81 6,81C-20,81 -42,68 -52,48C-57,38 -59,24 -59,10C-59,-8 -48,-22 -32,-33Z",
"M0,-68C14,-62 24,-52 31,-40C22,-42 12,-43 0,-43C-10,-43 -22,-40 -32,-33C-26,-48 -14,-60 0,-68Z",
"M-32,-33C-48,-22 -59,-8 -59,10C-59,24 -57,38 -52,48C-36,54 -16,52 0,45C-18,30 -35,12 -35,-10C-36,-20 -35,-27 -32,-33Z",
"M31,-40C52,-24 69,-10 69,10C69,22 68,32 65,40C45,52 20,52 0,45C16,32 35,10 36,-10C37,-20 35,-32 31,-40Z",
"M-32,-33C-22,-40 -10,-43 0,-43C12,-43 22,-42 31,-40C35,-32 37,-20 36,-10C35,10 16,32 0,45C-18,30 -35,12 -35,-10C-36,-20 -35,-27 -32,-33Z"]}},
"color":{"field":"region","type":"nominal","legend":null,"scale":{"domain":["yellow","red","blue","orange","green","purple","shield"],"range":["#f4e960","#ee5542","#5bc0e0","#f6b25e","#8fc75d","#c89cc9","#ffffff"]}},
"size":{"field":"venn","type":"ordinal","legend":null,"scale":{"type":"ordinal","domain":["d","A","B","C","D"],"range":[4,3.24,3.24,3.24,3.24]}}}},
{"data":{"name":"venn"},"transform":[{"filter":"datum.region=='shield' && datum.venn!='d'"}],"mark":{"type":"point","filled":false,"opacity":1,"size":3.24,"stroke":"#000","strokeWidth":1.3,"shape":"M-32,-33C-22,-40 -10,-43 0,-43C12,-43 22,-42 31,-40C35,-32 37,-20 36,-10C35,10 16,32 0,45C-18,30 -35,12 -35,-10C-36,-20 -35,-27 -32,-33Z"}},
{"data":{"name":"dbox"},"mark":{"type":"point","filled":false,"opacity":1,"size":4,"stroke":"#000","strokeWidth":2.6,"shape":"M-62,-16H62V16H-62Z"}},
{"data":{"name":"dbrk"},"mark":{"type":"point","filled":false,"opacity":1,"size":4,"stroke":"#000","strokeWidth":2.4,"shape":"M-15,-34H0V34H-15M0,0H10"}},
{"data":{"name":"dbrk"},"mark":{"type":"point","filled":true,"opacity":1,"size":4,"color":"#000","shape":"M8,-12.5L19,0L8,12.5Z"}},
{"data":{"name":"dcenter"},"mark":{"type":"text"},"encoding":{"text":{"field":"t"},"size":{"field":"k","type":"ordinal","legend":null,"scale":{"type":"ordinal","domain":["big","n","s"],"range":[29,23.4,21]}}}},
{"data":{"name":"dleft"},"mark":{"type":"text","align":"left"},"encoding":{"text":{"field":"t"},"size":{"field":"k","type":"ordinal","legend":null,"scale":{"type":"ordinal","domain":["big","n","s"],"range":[29,23.4,21]}}}}
]},
{"width":1,"height":37.7,"data":{"values":[{}]},"mark":{"type":"rule","opacity":0},"encoding":{}},
{"hconcat":[
{"width":664,"height":1,"data":{"values":[{}]},"mark":{"type":"rule","opacity":0},"encoding":{}},
{"width":251.4,"height":280.6,"view":{"stroke":"#555","strokeWidth":1.5},
"encoding":{"x":{"field":"at","type":"quantitative","scale":{"domain":[0,9.82],"padding":0,"nice":false,"zero":false},"axis":{"values":[0.2,1.98,3.81,6.11,8.44],"labelExpr":"datum.value<1?'E15':datum.value<3?'18':datum.value<5?'P2':datum.value<7?'P5':'P8'","ticks":false,"domain":false,"grid":false,"labelFontSize":22,"labelPadding":8,"title":null,"labelOverlap":false,"labelFlush":false,"labelBound":false}}},
"layer":[
{"data":{"name":"box"},"transform":[{"filter":"datum.panel=='h'"}],"layer":[
{"mark":{"type":"rule","strokeDash":[3,3],"color":"#111","strokeWidth":1.3},"encoding":{"y":{"field":"lo","type":"quantitative","scale":{"domain":[-0.47,12],"nice":false,"zero":false},"axis":{"values":[0,2,4,6,8,10,11.9],"labelExpr":"datum.value>11?'12':datum.value%4==0?datum.label:''","tickSize":7,"tickColor":"#444","domain":false,"grid":false,"labelFontSize":19.5,"labelPadding":2,"labelOffset":3,"title":null}},"y2":{"field":"hi"}}},
{"mark":{"type":"tick","orient":"horizontal","size":12,"thickness":1.3,"color":"#111","opacity":1},"encoding":{"y":{"field":"lo","type":"quantitative"}}},
{"mark":{"type":"tick","orient":"horizontal","size":12,"thickness":1.3,"color":"#111","opacity":1},"encoding":{"y":{"field":"hi","type":"quantitative"}}},
{"mark":{"type":"bar","width":25.7,"stroke":"#444","strokeWidth":1.5},"encoding":{"y":{"field":"q1","type":"quantitative"},"y2":{"field":"q3"},"color":{"field":"type","legend":null,"scale":{"domain":["whole","N","P"],"range":["#9dd6f2","#dceef9","#17b5ea"]}}}},
{"mark":{"type":"tick","orient":"horizontal","size":25.7,"thickness":2.6,"color":"#000","opacity":1},"encoding":{"y":{"field":"med","type":"quantitative"}}}]},
{"data":{"name":"seps"},"mark":{"type":"rule","color":"#111","strokeWidth":2},"encoding":{"y":{"datum":-0.47},"y2":{"datum":-1.4}}},
{"data":{"values":[{"at":3.62,"y":10.84}]},"mark":{"type":"point","filled":true,"fill":"#fff","stroke":"#000","strokeWidth":2.6,"opacity":1,"size":4,"shape":"M-78.5,-18.5H78.5V18.5H-78.5Z"},"encoding":{"y":{"field":"y","type":"quantitative"}}},
{"data":{"values":[{"t":"Cd73PG_C","at":3.62,"y":10.84}]},"mark":{"type":"text","fontSize":28},"encoding":{"y":{"field":"y","type":"quantitative"},"text":{"field":"t"}}},
{"data":{"values":[{"t":"(h)","at":-0.86,"y":12.9}]},"mark":{"type":"text","fontSize":29},"encoding":{"y":{"field":"y","type":"quantitative"},"text":{"field":"t"}}}
]},
{"width":41.6,"height":1,"data":{"values":[{}]},"mark":{"type":"rule","opacity":0},"encoding":{}},
{"width":251,"height":280.6,"view":{"stroke":"#555","strokeWidth":1.5},
"encoding":{"x":{"field":"at","type":"quantitative","scale":{"domain":[0,9.82],"padding":0,"nice":false,"zero":false},"axis":{"values":[0.2,1.98,3.81,6.11,8.44],"labelExpr":"datum.value<1?'E15':datum.value<3?'18':datum.value<5?'P2':datum.value<7?'P5':'P8'","ticks":false,"domain":false,"grid":false,"labelFontSize":22,"labelPadding":5,"title":null,"labelOverlap":false,"labelFlush":false,"labelBound":false}}},
"layer":[
{"data":{"name":"box"},"transform":[{"filter":"datum.panel=='i'"}],"layer":[
{"mark":{"type":"rule","strokeDash":[3,3],"color":"#111","strokeWidth":1.3},"encoding":{"y":{"field":"lo","type":"quantitative","scale":{"domain":[-0.44,11.93],"nice":false,"zero":false},"axis":{"values":[0,2,4,6,8,10,11.9],"labelExpr":"datum.value>11?'12':datum.value%4==0?datum.label:''","tickSize":7,"tickColor":"#444","domain":false,"grid":false,"labelFontSize":19.5,"labelPadding":2,"labelOffset":3,"title":null}},"y2":{"field":"hi"}}},
{"mark":{"type":"tick","orient":"horizontal","size":12,"thickness":1.3,"color":"#111","opacity":1},"encoding":{"y":{"field":"lo","type":"quantitative"}}},
{"mark":{"type":"tick","orient":"horizontal","size":12,"thickness":1.3,"color":"#111","opacity":1},"encoding":{"y":{"field":"hi","type":"quantitative"}}},
{"mark":{"type":"bar","width":25.7,"stroke":"#444","strokeWidth":1.5},"encoding":{"y":{"field":"q1","type":"quantitative"},"y2":{"field":"q3"},"color":{"field":"type","legend":null,"scale":{"domain":["whole","N","P"],"range":["#9dd6f2","#dceef9","#17b5ea"]}}}},
{"mark":{"type":"tick","orient":"horizontal","size":25.7,"thickness":2.6,"color":"#000","opacity":1},"encoding":{"y":{"field":"med","type":"quantitative"}}}]},
{"data":{"name":"seps"},"mark":{"type":"rule","color":"#111","strokeWidth":2},"encoding":{"y":{"datum":-0.44},"y2":{"datum":-1.37}}},
{"data":{"values":[{"at":3.29,"y":10.75}]},"mark":{"type":"point","filled":true,"fill":"#fff","stroke":"#000","strokeWidth":2.6,"opacity":1,"size":4,"shape":"M-78.5,-18.5H78.5V18.5H-78.5Z"},"encoding":{"y":{"field":"y","type":"quantitative"}}},
{"data":{"values":[{"t":"Cd73PG_D","at":3.29,"y":10.75}]},"mark":{"type":"text","fontSize":28},"encoding":{"y":{"field":"y","type":"quantitative"},"text":{"field":"t"}}},
{"data":{"values":[{"t":"(i)","at":-0.92,"y":12.8}]},"mark":{"type":"text","fontSize":29},"encoding":{"y":{"field":"y","type":"quantitative"},"text":{"field":"t"}}}
]}
],"bounds":"flush","spacing":0},
{"width":1,"height":3.3,"data":{"values":[{}]},"mark":{"type":"rule","opacity":0},"encoding":{}},
{"hconcat":[
{"width":78,"height":1,"data":{"values":[{}]},"mark":{"type":"rule","opacity":0},"encoding":{}},
{"width":252.5,"height":280,"view":{"stroke":"#555","strokeWidth":1.5},
"encoding":{"x":{"field":"at","type":"quantitative","scale":{"domain":[0,9.82],"padding":0,"nice":false,"zero":false},"axis":{"values":[0.2,1.98,3.81,6.11,8.44],"labelExpr":"datum.value<1?'E15':datum.value<3?'18':datum.value<5?'P2':datum.value<7?'P5':'P8'","ticks":false,"domain":false,"grid":false,"labelFontSize":22,"labelPadding":5,"title":null,"labelOverlap":false,"labelFlush":false,"labelBound":false}}},
"layer":[
{"data":{"name":"box"},"transform":[{"filter":"datum.panel=='f'"}],"layer":[
{"mark":{"type":"rule","strokeDash":[3,3],"color":"#111","strokeWidth":1.3},"encoding":{"y":{"field":"lo","type":"quantitative","scale":{"domain":[-0.4,11.93],"nice":false,"zero":false},"axis":{"values":[0,2,4,6,8,10,11.9],"labelExpr":"datum.value>11?'12':datum.value%4==0?datum.label:''","tickSize":7,"tickColor":"#444","domain":false,"grid":false,"labelFontSize":19.5,"labelPadding":2,"labelOffset":3,"title":"expression level (log2)","titleFontSize":25,"titleX":-45.4,"titleY":156,"titleBaseline":"middle"}},"y2":{"field":"hi"}}},
{"mark":{"type":"tick","orient":"horizontal","size":12,"thickness":1.3,"color":"#111","opacity":1},"encoding":{"y":{"field":"lo","type":"quantitative"}}},
{"mark":{"type":"tick","orient":"horizontal","size":12,"thickness":1.3,"color":"#111","opacity":1},"encoding":{"y":{"field":"hi","type":"quantitative"}}},
{"mark":{"type":"bar","width":25.7,"stroke":"#444","strokeWidth":1.5},"encoding":{"y":{"field":"q1","type":"quantitative"},"y2":{"field":"q3"},"color":{"field":"type","legend":null,"scale":{"domain":["whole","N","P"],"range":["#9dd6f2","#dceef9","#17b5ea"]}}}},
{"mark":{"type":"tick","orient":"horizontal","size":25.7,"thickness":2.6,"color":"#000","opacity":1},"encoding":{"y":{"field":"med","type":"quantitative"}}}]},
{"data":{"name":"seps"},"mark":{"type":"rule","color":"#111","strokeWidth":2},"encoding":{"y":{"datum":-0.4},"y2":{"datum":-1.33}}},
{"data":{"values":[{"at":3.37,"y":10.93}]},"mark":{"type":"point","filled":true,"fill":"#fff","stroke":"#000","strokeWidth":2.6,"opacity":1,"size":4,"shape":"M-78.5,-18.5H78.5V18.5H-78.5Z"},"encoding":{"y":{"field":"y","type":"quantitative"}}},
{"data":{"values":[{"t":"Cd73PG_A","at":3.37,"y":10.93}]},"mark":{"type":"text","fontSize":28},"encoding":{"y":{"field":"y","type":"quantitative"},"text":{"field":"t"}}},
{"data":{"values":[{"t":"(f)","at":-1.9,"y":13}]},"mark":{"type":"text","fontSize":29},"encoding":{"y":{"field":"y","type":"quantitative"},"text":{"field":"t"}}}
]},
{"width":42,"height":1,"data":{"values":[{}]},"mark":{"type":"rule","opacity":0},"encoding":{}},
{"width":252.3,"height":280,"view":{"stroke":"#555","strokeWidth":1.5},
"encoding":{"x":{"field":"at","type":"quantitative","scale":{"domain":[0,9.82],"padding":0,"nice":false,"zero":false},"axis":{"values":[0.2,1.98,3.81,6.11,8.44],"labelExpr":"datum.value<1?'E15':datum.value<3?'18':datum.value<5?'P2':datum.value<7?'P5':'P8'","ticks":false,"domain":false,"grid":false,"labelFontSize":22,"labelPadding":5,"title":null,"labelOverlap":false,"labelFlush":false,"labelBound":false}}},
"layer":[
{"data":{"name":"box"},"transform":[{"filter":"datum.panel=='g'"}],"layer":[
{"mark":{"type":"rule","strokeDash":[3,3],"color":"#111","strokeWidth":1.3},"encoding":{"y":{"field":"lo","type":"quantitative","scale":{"domain":[-0.4,11.93],"nice":false,"zero":false},"axis":{"values":[0,2,4,6,8,10,11.9],"labelExpr":"datum.value>11?'12':datum.value%4==0?datum.label:''","tickSize":7,"tickColor":"#444","domain":false,"grid":false,"labelFontSize":19.5,"labelPadding":2,"labelOffset":3,"title":null}},"y2":{"field":"hi"}}},
{"mark":{"type":"tick","orient":"horizontal","size":12,"thickness":1.3,"color":"#111","opacity":1},"encoding":{"y":{"field":"lo","type":"quantitative"}}},
{"mark":{"type":"tick","orient":"horizontal","size":12,"thickness":1.3,"color":"#111","opacity":1},"encoding":{"y":{"field":"hi","type":"quantitative"}}},
{"mark":{"type":"bar","width":25.7,"stroke":"#444","strokeWidth":1.5},"encoding":{"y":{"field":"q1","type":"quantitative"},"y2":{"field":"q3"},"color":{"field":"type","legend":null,"scale":{"domain":["whole","N","P"],"range":["#9dd6f2","#dceef9","#17b5ea"]}}}},
{"mark":{"type":"tick","orient":"horizontal","size":25.7,"thickness":2.6,"color":"#000","opacity":1},"encoding":{"y":{"field":"med","type":"quantitative"}}}]},
{"data":{"name":"seps"},"mark":{"type":"rule","color":"#111","strokeWidth":2},"encoding":{"y":{"datum":-0.4},"y2":{"datum":-1.33}}},
{"data":{"values":[{"at":3.42,"y":10.93}]},"mark":{"type":"point","filled":true,"fill":"#fff","stroke":"#000","strokeWidth":2.6,"opacity":1,"size":4,"shape":"M-78.5,-18.5H78.5V18.5H-78.5Z"},"encoding":{"y":{"field":"y","type":"quantitative"}}},
{"data":{"values":[{"t":"Cd73PG_B","at":3.42,"y":10.93}]},"mark":{"type":"text","fontSize":28},"encoding":{"y":{"field":"y","type":"quantitative"},"text":{"field":"t"}}},
{"data":{"values":[{"t":"(g)","at":-0.77,"y":13}]},"mark":{"type":"text","fontSize":29},"encoding":{"y":{"field":"y","type":"quantitative"},"text":{"field":"t"}}}
]}
],"bounds":"flush","spacing":0},
{"width":1,"height":280,"data":{"values":[{}]},"mark":{"type":"rule","opacity":0},"encoding":{}},
{"width":1242,"height":66,
"encoding":{"x":{"field":"x","type":"quantitative","scale":{"domain":[0,124.2],"nice":false,"zero":false},"axis":null},"y":{"datum":4.45,"scale":{"domain":[0,6.6],"reverse":true,"nice":false,"zero":false},"axis":null}},
"layer":[
{"data":{"values":[{"k":"whole","x":43.65},{"k":"N","x":59.25},{"k":"P","x":73.95}]},"mark":{"type":"point","filled":true,"opacity":1,"size":4,"stroke":"#444","strokeWidth":2,"shape":"M-18.5,-13.5H18.5V13.5H-18.5Z"},"encoding":{"color":{"field":"k","legend":null,"scale":{"domain":["whole","N","P"],"range":["#9dd6f2","#dceef9","#17b5ea"]}}}},
{"data":{"values":[{"t":"whole","x":46.3},{"t":"Cd73N","x":61.8},{"t":"CD73P","x":76.3}]},"mark":{"type":"text","align":"left","fontSize":25},"encoding":{"text":{"field":"t"}}}
]},
{"width":1,"height":59.3,"data":{"values":[{}]},"mark":{"type":"rule","opacity":0},"encoding":{}},
{"hconcat":[
{"width":78.4,"height":1,"data":{"values":[{}]},"mark":{"type":"rule","opacity":0},"encoding":{}},
{"width":222.2,"height":222.2,"view":{"stroke":"#222","strokeWidth":1.2},
"encoding":{"x":{"field":"at","type":"quantitative","scale":{"domain":[0,8.42],"padding":0,"nice":false,"zero":false},"axis":{"orient":"top","values":[1.3,4.07,6.83],"labelExpr":"datum.value<2.5?'P2':datum.value<5.5?'P5':'P8'","ticks":false,"domain":false,"grid":false,"labelFontSize":21,"labelPadding":2,"labelFlush":false,"labelBound":false,"labelOverlap":false,"title":"Cd73PG","titleFontSize":22,"titleX":100.4,"titleY":-31,"titleBaseline":"middle"}}},
"layer":[
{"data":{"name":"chip"},"transform":[{"filter":"datum.panel=='j1'"}],"layer":[
{"mark":{"type":"rule","strokeDash":[3,3],"color":"#111","strokeWidth":1.3},"encoding":{"y":{"field":"lo","type":"quantitative","scale":{"domain":[-0.095,2.63],"nice":false,"zero":false},"axis":{"values":[0,1,2],"format":"d","tickSize":6,"tickColor":"#444","domain":false,"grid":false,"labelFontSize":24,"labelPadding":2,"title":["H3K4me3 (log2)","(ChIPseq average)"],"titleFontSize":22,"titleLineHeight":18,"titleX":-58.5,"titleY":116,"titleBaseline":"middle"}},"y2":{"field":"hi"}}},
{"mark":{"type":"tick","orient":"horizontal","size":11,"thickness":1.3,"color":"#111","opacity":1},"encoding":{"y":{"field":"lo","type":"quantitative"}}},
{"mark":{"type":"tick","orient":"horizontal","size":11,"thickness":1.3,"color":"#111","opacity":1},"encoding":{"y":{"field":"hi","type":"quantitative"}}},
{"mark":{"type":"bar","width":26.4,"stroke":"#444","strokeWidth":1.5},"encoding":{"y":{"field":"q1","type":"quantitative"},"y2":{"field":"q3"},"color":{"field":"k","legend":null,"scale":{"domain":["NG_K4","PG_K27","NG_K4g","PG_K27g"],"range":["#e6bfd9","#dd7bb1","#cfdf6b","#72c274"]}}}},
{"mark":{"type":"tick","orient":"horizontal","size":26.4,"thickness":2.6,"color":"#000","opacity":1},"encoding":{"y":{"field":"med","type":"quantitative"}}}]},
{"data":{"values":[{"at":2.84},{"at":5.58}]},"mark":{"type":"rule","color":"#222","strokeWidth":1.2}},
{"data":{"name":"brk"},"transform":[{"filter":"datum.panel=='j1'"}],"mark":{"type":"line","color":"#000","strokeWidth":2.4},"encoding":{"y":{"field":"v","type":"quantitative"},"detail":{"field":"b"},"order":{"field":"o"}}},
{"data":{"values":[{"at":1.45,"t":"2.20E-16"},{"at":4.18,"t":"2.20E-16"},{"at":6.98,"t":"3.34E-13"}]},"mark":{"type":"text","fontSize":16.5},"encoding":{"y":{"datum":2.48},"text":{"field":"t"}}},
{"data":{"values":[{"t":"(j)","at":-1.94,"y":3.04}]},"mark":{"type":"text","fontSize":29},"encoding":{"y":{"field":"y","type":"quantitative"},"text":{"field":"t"}}}
]},
{"width":13.2,"height":1,"data":{"values":[{}]},"mark":{"type":"rule","opacity":0},"encoding":{}},
{"width":221.4,"height":222.2,"view":{"stroke":"#222","strokeWidth":1.2},
"encoding":{"x":{"field":"at","type":"quantitative","scale":{"domain":[0,8.39],"padding":0,"nice":false,"zero":false},"axis":{"orient":"top","values":[1.61,4.15,6.9],"labelExpr":"datum.value<2.5?'P2':datum.value<5.5?'P5':'P8'","ticks":false,"domain":false,"grid":false,"labelFontSize":21,"labelPadding":2,"labelFlush":false,"labelBound":false,"labelOverlap":false,"title":"Cd73NG","titleFontSize":22,"titleX":100.6,"titleY":-31,"titleBaseline":"middle"}}},
"layer":[
{"data":{"name":"chip"},"transform":[{"filter":"datum.panel=='j2'"}],"layer":[
{"mark":{"type":"rule","strokeDash":[3,3],"color":"#111","strokeWidth":1.3},"encoding":{"y":{"field":"lo","type":"quantitative","scale":{"domain":[-0.095,2.63],"nice":false,"zero":false},"axis":{"values":[0,1,2],"tickSize":6,"tickColor":"#444","domain":false,"grid":false,"labels":false,"title":null}},"y2":{"field":"hi"}}},
{"mark":{"type":"tick","orient":"horizontal","size":11,"thickness":1.3,"color":"#111","opacity":1},"encoding":{"y":{"field":"lo","type":"quantitative"}}},
{"mark":{"type":"tick","orient":"horizontal","size":11,"thickness":1.3,"color":"#111","opacity":1},"encoding":{"y":{"field":"hi","type":"quantitative"}}},
{"mark":{"type":"bar","width":26.4,"stroke":"#444","strokeWidth":1.5},"encoding":{"y":{"field":"q1","type":"quantitative"},"y2":{"field":"q3"},"color":{"field":"k","legend":null,"scale":{"domain":["NG_K4","PG_K27","NG_K4g","PG_K27g"],"range":["#e6bfd9","#dd7bb1","#cfdf6b","#72c274"]}}}},
{"mark":{"type":"tick","orient":"horizontal","size":26.4,"thickness":2.6,"color":"#000","opacity":1},"encoding":{"y":{"field":"med","type":"quantitative"}}}]},
{"data":{"values":[{"at":3.04},{"at":5.78}]},"mark":{"type":"rule","color":"#222","strokeWidth":1.2}},
{"data":{"name":"brk"},"transform":[{"filter":"datum.panel=='j2'"}],"mark":{"type":"line","color":"#000","strokeWidth":2.4},"encoding":{"y":{"field":"v","type":"quantitative"},"detail":{"field":"b"},"order":{"field":"o"}}},
{"data":{"values":[{"at":1.45,"t":"4.52E-9"},{"at":4.41,"t":"2.20E-06"},{"at":7.06,"t":"5.38E-9"}]},"mark":{"type":"text","fontSize":16.5},"encoding":{"y":{"datum":2.48},"text":{"field":"t"}}},
{"data":{"values":[{"at":-0.28}]},"mark":{"type":"rule","color":"#333","strokeWidth":1.5},"encoding":{"y":{"datum":2.65},"y2":{"datum":3.19}}}
]},
{"width":76,"height":1,"data":{"values":[{}]},"mark":{"type":"rule","opacity":0},"encoding":{}},
{"width":221.1,"height":222.2,"view":{"stroke":"#222","strokeWidth":1.2},
"encoding":{"x":{"field":"at","type":"quantitative","scale":{"domain":[0,8.64],"padding":0,"nice":false,"zero":false},"axis":{"orient":"top","values":[1.48,4.34,7.19],"labelExpr":"datum.value<2.5?'P2':datum.value<5.5?'P5':'P8'","ticks":false,"domain":false,"grid":false,"labelFontSize":21,"labelPadding":2,"labelFlush":false,"labelBound":false,"labelOverlap":false,"title":"Cd73PG","titleFontSize":22,"titleX":120,"titleY":-31,"titleBaseline":"middle"}}},
"layer":[
{"data":{"name":"chip"},"transform":[{"filter":"datum.panel=='k1'"}],"layer":[
{"mark":{"type":"rule","strokeDash":[3,3],"color":"#111","strokeWidth":1.3},"encoding":{"y":{"field":"lo","type":"quantitative","scale":{"domain":[-0.055,1.524],"nice":false,"zero":false},"axis":{"values":[0,0.56,1,1.47],"labelExpr":"datum.value==0?'0':datum.value==1?'1':''","tickSize":6,"tickColor":"#444","domain":false,"grid":false,"labelFontSize":24,"labelPadding":2,"title":["H3K27me3 (log2)","(ChIPseq average)"],"titleFontSize":22,"titleLineHeight":20,"titleX":-56.3,"titleY":113,"titleBaseline":"middle"}},"y2":{"field":"hi"}}},
{"mark":{"type":"tick","orient":"horizontal","size":11,"thickness":1.3,"color":"#111","opacity":1},"encoding":{"y":{"field":"lo","type":"quantitative"}}},
{"mark":{"type":"tick","orient":"horizontal","size":11,"thickness":1.3,"color":"#111","opacity":1},"encoding":{"y":{"field":"hi","type":"quantitative"}}},
{"mark":{"type":"bar","width":25.6,"stroke":"#444","strokeWidth":1.5},"encoding":{"y":{"field":"q1","type":"quantitative"},"y2":{"field":"q3"},"color":{"field":"k","legend":null,"scale":{"domain":["NG_K4","PG_K27","NG_K4g","PG_K27g"],"range":["#e6bfd9","#dd7bb1","#cfdf6b","#72c274"]}}}},
{"mark":{"type":"tick","orient":"horizontal","size":25.6,"thickness":2.6,"color":"#000","opacity":1},"encoding":{"y":{"field":"med","type":"quantitative"}}}]},
{"data":{"values":[{"at":2.91},{"at":5.74}]},"mark":{"type":"rule","color":"#222","strokeWidth":1.2}},
{"data":{"name":"brk"},"transform":[{"filter":"datum.panel=='k1'"}],"mark":{"type":"line","color":"#000","strokeWidth":2.4},"encoding":{"y":{"field":"v","type":"quantitative"},"detail":{"field":"b"},"order":{"field":"o"}}},
{"data":{"values":[{"at":1.43,"t":"9.58E-4"},{"at":4.34,"t":"1.23E-12"},{"at":7.24,"t":"3.41E-10"}]},"mark":{"type":"text","fontSize":16.5},"encoding":{"y":{"datum":1.443},"text":{"field":"t"}}},
{"data":{"values":[{"t":"(k)","at":-1.44,"y":1.77}]},"mark":{"type":"text","fontSize":29},"encoding":{"y":{"field":"y","type":"quantitative"},"text":{"field":"t"}}}
]},
{"width":11.5,"height":1,"data":{"values":[{}]},"mark":{"type":"rule","opacity":0},"encoding":{}},
{"width":221.1,"height":222.2,"view":{"stroke":"#222","strokeWidth":1.2},
"encoding":{"x":{"field":"at","type":"quantitative","scale":{"domain":[0,8.64],"padding":0,"nice":false,"zero":false},"axis":{"orient":"top","values":[1.19,4.3,6.88],"labelExpr":"datum.value<2.5?'P2':datum.value<5.5?'P5':'P8'","ticks":false,"domain":false,"grid":false,"labelFontSize":21,"labelPadding":2,"labelFlush":false,"labelBound":false,"labelOverlap":false,"title":"Cd73NG","titleFontSize":22,"titleX":115.5,"titleY":-31,"titleBaseline":"middle"}}},
"layer":[
{"data":{"name":"chip"},"transform":[{"filter":"datum.panel=='k2'"}],"layer":[
{"mark":{"type":"rule","strokeDash":[3,3],"color":"#111","strokeWidth":1.3},"encoding":{"y":{"field":"lo","type":"quantitative","scale":{"domain":[-0.055,1.524],"nice":false,"zero":false},"axis":{"values":[0,0.56,1,1.47],"tickSize":6,"tickColor":"#444","domain":false,"grid":false,"labels":false,"title":null}},"y2":{"field":"hi"}}},
{"mark":{"type":"tick","orient":"horizontal","size":11,"thickness":1.3,"color":"#111","opacity":1},"encoding":{"y":{"field":"lo","type":"quantitative"}}},
{"mark":{"type":"tick","orient":"horizontal","size":11,"thickness":1.3,"color":"#111","opacity":1},"encoding":{"y":{"field":"hi","type":"quantitative"}}},
{"mark":{"type":"bar","width":25.6,"stroke":"#444","strokeWidth":1.5},"encoding":{"y":{"field":"q1","type":"quantitative"},"y2":{"field":"q3"},"color":{"field":"k","legend":null,"scale":{"domain":["NG_K4","PG_K27","NG_K4g","PG_K27g"],"range":["#e6bfd9","#dd7bb1","#cfdf6b","#72c274"]}}}},
{"mark":{"type":"tick","orient":"horizontal","size":25.6,"thickness":2.6,"color":"#000","opacity":1},"encoding":{"y":{"field":"med","type":"quantitative"}}}]},
{"data":{"values":[{"at":2.91},{"at":5.74}]},"mark":{"type":"rule","color":"#222","strokeWidth":1.2}},
{"data":{"name":"brk"},"transform":[{"filter":"datum.panel=='k2'"}],"mark":{"type":"line","color":"#000","strokeWidth":2.4},"encoding":{"y":{"field":"v","type":"quantitative"},"detail":{"field":"b"},"order":{"field":"o"}}},
{"data":{"values":[{"at":1.41,"t":"2.2E-16"},{"at":4.3,"t":"7.35E-10"},{"at":7.06,"t":"2.2E-16"}]},"mark":{"type":"text","fontSize":16.5},"encoding":{"y":{"datum":1.443},"text":{"field":"t"}}},
{"data":{"values":[{"at":-0.22}]},"mark":{"type":"rule","color":"#333","strokeWidth":1.5},"encoding":{"y":{"datum":1.52},"y2":{"datum":1.852}}}
]},
{"width":172.6,"height":222.2,
"encoding":{"x":{"field":"x","type":"quantitative","scale":{"domain":[0,17.26],"nice":false,"zero":false},"axis":null},"y":{"field":"y","type":"quantitative","scale":{"domain":[0,22.22],"reverse":true,"nice":false,"zero":false},"axis":null}},
"layer":[
{"data":{"values":[{"k":"NG_K4","x":2.23,"y":3.07},{"k":"PG_K27","x":2.23,"y":8.57},{"k":"NG_K4g","x":2.23,"y":14.07},{"k":"PG_K27g","x":2.23,"y":19.47}]},"mark":{"type":"point","filled":true,"opacity":1,"size":4,"stroke":"#666","strokeWidth":1.8,"shape":"M-12,-12.5H12V12.5H-12Z"},"encoding":{"color":{"field":"k","legend":null,"scale":{"domain":["NG_K4","PG_K27","NG_K4g","PG_K27g"],"range":["#e6bfd9","#dd7bb1","#cfdf6b","#72c274"]}}}},
{"data":{"values":[{"t":"Cd73NG","x":4.02,"y":1.77},{"t":"H3K4me3","x":4.02,"y":4.44},{"t":"Cd73PG","x":4.02,"y":7.17},{"t":"H3K27me3","x":4.02,"y":9.87},{"t":"Cd73NG","x":4.02,"y":12.74},{"t":"H3K4me3","x":4.02,"y":15.47},{"t":"Cd73PG","x":4.02,"y":18.24},{"t":"H3K27me3","x":4.02,"y":20.97}]},"mark":{"type":"text","align":"left","fontSize":22},"encoding":{"text":{"field":"t"}}},
{"data":{"values":[{"x":0.35,"x2":13.9,"y":5.84},{"x":0.35,"x2":13.9,"y":11.44},{"x":0.35,"x2":13.9,"y":17.04}]},"mark":{"type":"rule","color":"#aaa","strokeWidth":1.5},"encoding":{"x2":{"field":"x2"}}}
]}
],"bounds":"flush","spacing":0}
],
"config":{"font":"Liberation Sans","view":{"stroke":null},"title":{"font":"Liberation Sans","fontSize":27,"fontWeight":"normal","color":"#1a1a1a"},"axis":{"labelColor":"#1a1a1a","titleColor":"#1a1a1a","titleFontWeight":"normal","labelFont":"Liberation Sans","titleFont":"Liberation Sans"},"text":{"color":"#1a1a1a","font":"Liberation Sans","baseline":"middle"}}
}
